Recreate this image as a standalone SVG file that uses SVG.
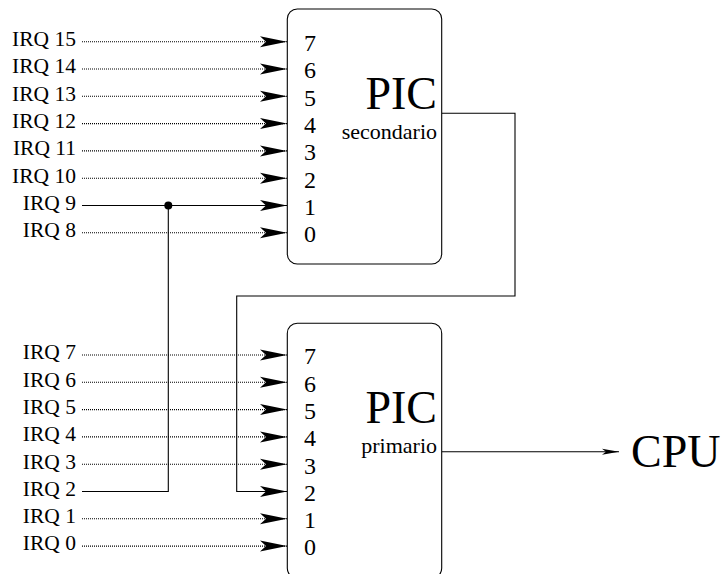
<svg xmlns="http://www.w3.org/2000/svg" width="727" height="574" viewBox="0 0 727 574">
<defs>
<style>
.box{fill:#fff;stroke:#000;stroke-width:1.1}
.dot{stroke:#000;stroke-width:1.1;stroke-dasharray:1 1;fill:none}
.sol{stroke:#000;stroke-width:1.1;fill:none}
text{font-family:'Liberation Serif','Times New Roman','DejaVu Serif',serif;fill:#000}
.lbl{font-size:21.5px;text-anchor:end}
.num{font-size:24px}
.big{font-size:46px;text-anchor:end}
.sub{font-size:22px;text-anchor:end}
</style>
<marker id="ah" markerUnits="userSpaceOnUse" markerWidth="28" markerHeight="12" refX="27" refY="6" orient="auto">
<path d="M27,6 L0,0.5 L6,6 L0,11.5 Z" fill="#000"/>
</marker>
<marker id="ahs" markerUnits="userSpaceOnUse" markerWidth="18" markerHeight="8" refX="17" refY="4" orient="auto">
<path d="M17,4 L0,1 L4,4 L0,7 Z" fill="#000"/>
</marker>
</defs>

<g id="connectors">
<line class="dot" x1="82" y1="41.7" x2="287" y2="41.7" marker-end="url(#ah)"/>
<line class="dot" x1="82" y1="69" x2="287" y2="69" marker-end="url(#ah)"/>
<line class="dot" x1="82" y1="96.3" x2="287" y2="96.3" marker-end="url(#ah)"/>
<line class="dot" x1="82" y1="123.6" x2="287" y2="123.6" marker-end="url(#ah)"/>
<line class="dot" x1="82" y1="150.9" x2="287" y2="150.9" marker-end="url(#ah)"/>
<line class="dot" x1="82" y1="178.2" x2="287" y2="178.2" marker-end="url(#ah)"/>
<line class="sol" x1="82" y1="205.5" x2="287" y2="205.5" marker-end="url(#ah)"/>
<line class="dot" x1="82" y1="232.8" x2="287" y2="232.8" marker-end="url(#ah)"/>

<line class="dot" x1="82" y1="355" x2="287" y2="355" marker-end="url(#ah)"/>
<line class="dot" x1="82" y1="382.3" x2="287" y2="382.3" marker-end="url(#ah)"/>
<line class="dot" x1="82" y1="409.6" x2="287" y2="409.6" marker-end="url(#ah)"/>
<line class="dot" x1="82" y1="436.9" x2="287" y2="436.9" marker-end="url(#ah)"/>
<line class="dot" x1="82" y1="464.2" x2="287" y2="464.2" marker-end="url(#ah)"/>
<line class="dot" x1="82" y1="518.8" x2="287" y2="518.8" marker-end="url(#ah)"/>
<line class="dot" x1="82" y1="546.1" x2="287" y2="546.1" marker-end="url(#ah)"/>

<polyline class="sol" points="82,491.5 168.3,491.5 168.3,205.5"/>
<circle cx="168.3" cy="205.5" r="4" fill="#000"/>

<polyline class="sol" points="442,113.3 515,113.3 515,296 236.7,296 236.7,491.5 287,491.5" marker-end="url(#ah)"/>

<line class="sol" x1="442" y1="451.7" x2="619" y2="451.7" marker-end="url(#ahs)"/>
</g>

<g id="pic-secondario">
<rect class="box" x="287.3" y="9" width="154.4" height="255" rx="10" ry="10"/>
<text class="num" x="304" y="51">7</text>
<text class="num" x="304" y="78.3">6</text>
<text class="num" x="304" y="105.6">5</text>
<text class="num" x="304" y="132.9">4</text>
<text class="num" x="304" y="160.2">3</text>
<text class="num" x="304" y="187.5">2</text>
<text class="num" x="304" y="214.8">1</text>
<text class="num" x="304" y="242.1">0</text>
<text class="big" x="437" y="109">PIC</text>
<text class="sub" x="437" y="139">secondario</text>
</g>

<g id="pic-primario">
<rect class="box" x="287.3" y="323.3" width="154.4" height="255" rx="10" ry="10"/>
<text class="num" x="304" y="364.3">7</text>
<text class="num" x="304" y="391.6">6</text>
<text class="num" x="304" y="418.9">5</text>
<text class="num" x="304" y="446.2">4</text>
<text class="num" x="304" y="473.5">3</text>
<text class="num" x="304" y="500.8">2</text>
<text class="num" x="304" y="528.1">1</text>
<text class="num" x="304" y="555.4">0</text>
<text class="big" x="437" y="422.5">PIC</text>
<text class="sub" x="437" y="452.5">primario</text>
</g>

<g id="irq-labels">
<text class="lbl" x="76" y="46">IRQ 15</text>
<text class="lbl" x="76" y="73.3">IRQ 14</text>
<text class="lbl" x="76" y="100.6">IRQ 13</text>
<text class="lbl" x="76" y="127.9">IRQ 12</text>
<text class="lbl" x="76" y="155.2">IRQ 11</text>
<text class="lbl" x="76" y="182.5">IRQ 10</text>
<text class="lbl" x="76" y="209.8">IRQ 9</text>
<text class="lbl" x="76" y="237.1">IRQ 8</text>
<text class="lbl" x="76" y="359.3">IRQ 7</text>
<text class="lbl" x="76" y="386.6">IRQ 6</text>
<text class="lbl" x="76" y="413.9">IRQ 5</text>
<text class="lbl" x="76" y="441.2">IRQ 4</text>
<text class="lbl" x="76" y="468.5">IRQ 3</text>
<text class="lbl" x="76" y="495.8">IRQ 2</text>
<text class="lbl" x="76" y="523.1">IRQ 1</text>
<text class="lbl" x="76" y="550.4">IRQ 0</text>
</g>

<g id="cpu">
<text x="631" y="467" font-size="46">CPU</text>
</g>
</svg>
